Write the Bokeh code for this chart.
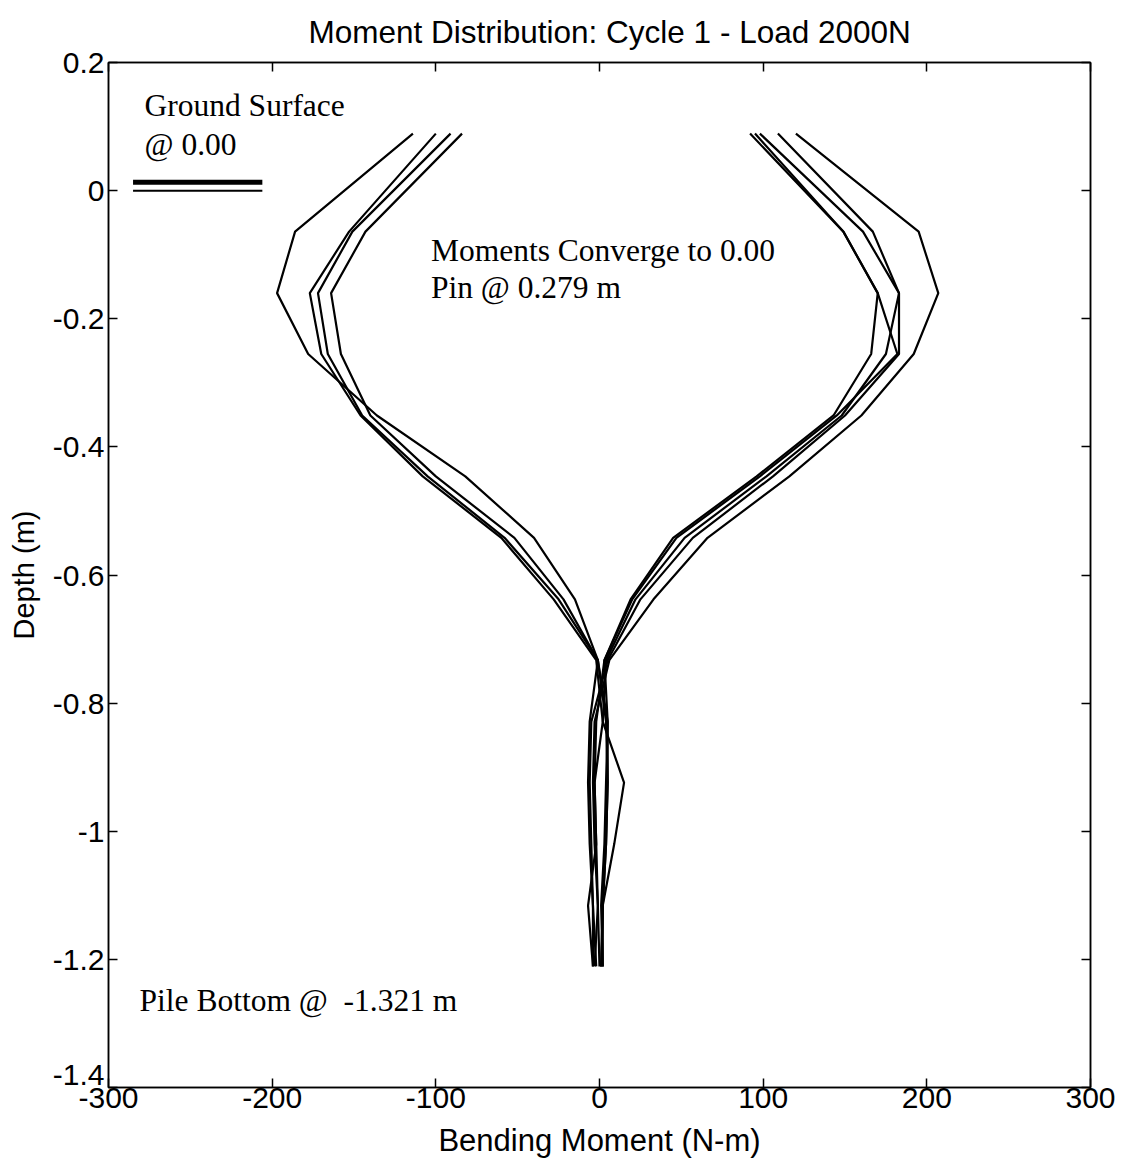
from bokeh.plotting import figure
from bokeh.models import Range1d, FixedTicker, LinearAxis, CustomJSTickFormatter, Label
from bokeh.embed import file_html
from bokeh.resources import INLINE

# Gauge depths along the pile (m)
depth = [0.089, -0.064, -0.160, -0.255, -0.351, -0.446, -0.542,
         -0.638, -0.733, -0.829, -0.924, -1.020, -1.116, -1.211]

# Bending moment profiles (N-m), negative direction of loading
neg_1 = [-114, -186, -197, -178, -136, -82, -40, -15, -1, 4, 5, 4, 2, 1]
neg_2 = [-100, -153, -177, -170, -146, -108, -60, -28, -2, 2, -3, -2, -1, -3]
neg_3 = [-91, -151, -172, -166, -145, -105, -58, -25, -1, 5, 4, 3, 1, 2]
neg_4 = [-84, -143, -164, -158, -140, -100, -52, -22, -1, -6, -7, -6, -4, -4]

# Bending moment profiles (N-m), positive direction of loading
pos_1 = [120, 195, 207, 192, 160, 116, 66, 33, 6, -3, -4, -3, -1, 0]
pos_2 = [109, 167, 183, 183, 150, 106, 57, 25, 5, -5, -6, -5, -4, -2]
pos_3 = [98, 161, 183, 175, 148, 102, 52, 22, 4, 2, 15, 9, 2, 2]
pos_4 = [95, 149, 170, 182, 145, 98, 47, 20, 3, -2, -3, -2, -7, -4]
pos_5 = [92, 149, 170, 166, 143, 96, 45, 19, 3, 5, 5, 4, 2, 1]

profiles = [neg_1, neg_2, neg_3, neg_4, pos_1, pos_2, pos_3, pos_4, pos_5]

x_ticks = [-300, -200, -100, 0, 100, 200, 300]
y_ticks = [0.2, 0.0, -0.2, -0.4, -0.6, -0.8, -1.0, -1.2, -1.4]

# Ground surface marker (double line at depth 0)
ground_x = [-285, -206]

SANS = "Liberation Sans"
SERIF = "Liberation Serif"

p = figure(width=1131, height=1172, output_backend="svg", toolbar_location=None,
           x_range=Range1d(-300, 300), y_range=Range1d(-1.4, 0.2),
           min_border_left=108, min_border_right=41, min_border_top=62,
           min_border_bottom=85, x_axis_location=None, y_axis_location=None)

p.title.text = "Moment Distribution: Cycle 1 - Load 2000N"
p.title.align = "left"
p.title.offset = 200
p.title.standoff = 22
p.title.vertical_align = "top"
p.title.text_font = SANS
p.title.text_font_size = "31.5px"
p.title.text_font_style = "normal"
p.title.text_color = "black"

p.xgrid.visible = False
p.ygrid.visible = False
p.outline_line_color = "black"
p.outline_line_width = 1.5
p.background_fill_color = "white"
p.border_fill_color = "white"

# plain hyphen minus signs; the bottom depth label gets a trailing blank
# line so that it sits above the corner, clear of the "-300" label
fmt_y = CustomJSTickFormatter(
    code="const s = String(Number(tick.toFixed(1)));"
         "return (Math.abs(tick + 1.4) < 1e-6) ? s + '\\n ' : s;")
fmt_x = CustomJSTickFormatter(code="return String(Math.round(tick));")


def style_axis(ax, show_labels):
    ax.major_tick_in = 9
    ax.major_tick_out = 0
    ax.minor_tick_line_color = None
    ax.axis_line_color = "black"
    ax.axis_line_width = 1.5
    ax.major_tick_line_width = 1.5
    ax.major_tick_line_color = "black"
    ax.major_label_text_font = SANS
    ax.major_label_text_font_size = "30px" if show_labels else "0px"
    ax.major_label_text_color = "black"
    ax.axis_label_text_font = SANS
    ax.axis_label_text_font_style = "normal"
    ax.axis_label_text_color = "black"


xb = LinearAxis(ticker=FixedTicker(ticks=x_ticks), formatter=fmt_x,
                axis_label="Bending Moment (N-m)")
style_axis(xb, True)
xb.major_label_standoff = 0
xb.axis_label_standoff = 12
xb.axis_label_text_font_size = "31px"
p.add_layout(xb, "below")

yl = LinearAxis(ticker=FixedTicker(ticks=y_ticks), formatter=fmt_y, axis_label="Depth (m)")
style_axis(yl, True)
yl.major_label_standoff = 4
yl.axis_label_standoff = 10
yl.axis_label_text_font_size = "29px"
yl.major_label_text_line_height = 0.8
p.add_layout(yl, "left")

xt = LinearAxis(ticker=FixedTicker(ticks=x_ticks))
style_axis(xt, False)
xt.major_label_standoff = 0
p.add_layout(xt, "above")

yr = LinearAxis(ticker=FixedTicker(ticks=y_ticks))
style_axis(yr, False)
yr.major_label_standoff = 0
p.add_layout(yr, "right")

for m in profiles:
    p.line(m, depth, line_color="black", line_width=2.2)

p.line(ground_x, [0.013, 0.013], line_color="black", line_width=5)
p.line(ground_x, [0.0, 0.0], line_color="black", line_width=2)

notes = [
    ("Ground Surface", -278, 0.106),
    ("@ 0.00", -278, 0.044),
    ("Moments Converge to 0.00", -103, -0.121),
    ("Pin @ 0.279 m", -103, -0.179),
    ("Pile Bottom @\u00a0\u00a0-1.321 m", -281, -1.292),
]
for txt, tx, ty in notes:
    p.add_layout(Label(x=tx, y=ty, text=txt, text_font=SERIF,
                       text_font_size="31.5px", text_color="black"))

open("out.html", "w").write(file_html(p, INLINE))
